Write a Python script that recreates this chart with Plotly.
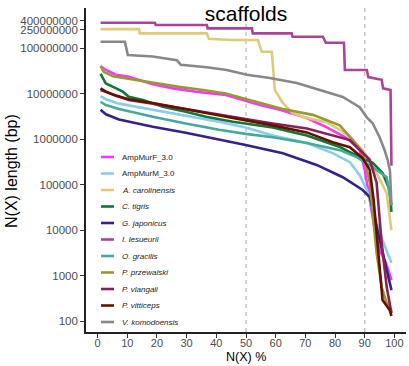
import plotly.graph_objects as go

# ---- data (N(X) % vs N(X) length in bp) ----
names = ["AmpMurF_3.0", "AmpMurM_3.0", "A. carolinensis", "C. tigris", "G. japonicus",
         "I. lesueurii", "O. gracilis", "P. przewalski", "P. vlangali", "P. vitticeps",
         "V. komodoensis"]
italic = [False, False, True, True, True, True, True, True, True, True, True]
colors = ["#FF33FF", "#88CCEE", "#DDCC77", "#117733", "#332288", "#AA4499",
          "#44AA99", "#999933", "#882255", "#661100", "#888888"]

ampf_x = [1, 2.8, 6.2, 10.5, 18.6, 25.4, 33.1, 43.2, 54.7, 61.4, 70.5, 77.2, 83.9, 88.3, 90, 91.7, 93.4, 95, 97, 99]
ampf_y = [4.0e7, 3.3e7, 2.6e7, 2.35e7, 1.6e7, 1.3e7, 1.1e7, 9.3e6, 5.6e6, 4.4e6, 2.9e6, 1.8e6, 1.05e6, 5.8e5, 2.1e5, 4.6e4, 1.0e4, 3.6e3, 2.0e3, 800]

ampm_x = [1, 2.8, 7.2, 18.6, 29.7, 40.9, 49.9, 59, 70.5, 79.2, 85, 88.3, 90.7, 92.7, 96, 99]
ampm_y = [8.8e6, 7.5e6, 6.0e6, 4.4e6, 3.2e6, 2.4e6, 1.8e6, 1.2e6, 8.2e5, 4.9e5, 3.1e5, 1.6e5, 7.6e4, 2.7e4, 6.0e3, 1.9e3]

acar_x = [1, 13.9, 14.2, 36.8, 37.5, 44.5, 54, 55.3, 58.7, 59.7, 62.4, 65.7, 70.5, 77.2, 81.6, 85, 89.3, 94, 97.4, 99]
acar_y = [2.6e8, 2.6e8, 2.1e8, 2.1e8, 1.6e8, 1.5e8, 1.5e8, 8.3e7, 8.3e7, 1.2e7, 6.2e6, 3.7e6, 2.9e6, 2.35e6, 1.6e6, 1.1e6, 5.7e5, 1.8e5, 6.4e4, 1.0e4]

ctig_x = [1, 2.8, 5.2, 8.5, 10.5, 15.3, 22, 29.7, 36.5, 45.6, 59, 70.5, 81.6, 88.3, 92.7, 96, 98.4, 99]
ctig_y = [2.7e7, 1.66e7, 1.4e7, 1.1e7, 8.5e6, 7.2e6, 5.1e6, 4.0e6, 3.1e6, 2.4e6, 1.8e6, 1.2e6, 6.7e5, 4.0e5, 3.0e5, 1.8e5, 7.6e4, 2.5e4]

gjap_x = [1, 2.8, 7.2, 18.6, 29.7, 40.9, 49.9, 62.4, 73.8, 82.6, 89.3, 91.7, 94, 96, 99]
gjap_y = [4.4e6, 3.5e6, 2.7e6, 1.86e6, 1.37e6, 9.8e5, 7.4e5, 4.9e5, 2.7e5, 1.45e5, 7.6e4, 5.3e4, 1.2e4, 3.1e3, 480]

ilesu_x = [1, 19.3, 19.6, 36.8, 37.1, 52, 52.3, 65.4, 65.7, 75.9, 76.9, 83.0, 83.3, 90.7, 91.2, 95.7, 96.2, 98.7, 99]
ilesu_y = [3.6e8, 3.6e8, 3.2e8, 3.2e8, 2.7e8, 2.7e8, 2.1e8, 2.1e8, 1.77e8, 1.77e8, 1.31e8, 1.31e8, 3.3e7, 3.3e7, 2.3e7, 2.0e7, 1.3e7, 1.2e7, 2.6e5]

ogra_x = [1, 2.8, 7.2, 18.6, 29.7, 40.9, 49.9, 59, 70.5, 81.6, 87.3, 92.7, 97.4, 99]
ogra_y = [6.6e6, 5.6e6, 4.6e6, 3.1e6, 2.2e6, 1.6e6, 1.3e6, 1.1e6, 8.2e5, 5.7e5, 4.0e5, 2.4e5, 1.45e5, 3.5e4]

pprz_x = [1, 2.1, 5.2, 10.5, 18.6, 27.4, 35.5, 43.2, 49.9, 54.7, 62.4, 72.5, 77.2, 81.6, 86, 89.3, 91.7, 93, 94, 95.7, 97.4, 99]
pprz_y = [4.0e7, 3.0e7, 2.4e7, 2.1e7, 1.7e7, 1.4e7, 1.2e7, 1.0e7, 7.6e6, 6.2e6, 4.6e6, 3.4e6, 2.6e6, 2.0e6, 9.5e5, 5.2e5, 1.1e5, 1.7e4, 3.1e3, 560, 250, 165]

pvla_x = [1, 10.5, 18.6, 27.4, 36.5, 45.6, 59, 70.5, 79.2, 85, 91.7, 94, 95.7, 97.4, 99]
pvla_y = [1.2e7, 7.2e6, 6.0e6, 4.8e6, 3.8e6, 3.0e6, 2.2e6, 1.7e6, 1.2e6, 9.5e5, 3.5e5, 1.1e5, 5.2e3, 560, 150]

pvit_x = [1, 2.8, 6.2, 10.5, 18.6, 27.4, 36.5, 45.6, 59, 70.5, 79.2, 85, 89.3, 91.7, 93, 94, 95, 96, 98.4, 99]
pvit_y = [1.3e7, 1.1e7, 8.9e6, 7.5e6, 6.2e6, 4.8e6, 3.7e6, 2.9e6, 2.0e6, 1.4e6, 8.5e5, 6.6e5, 3.8e5, 2.1e5, 4.6e4, 8.6e3, 1.1e3, 290, 175, 130]

vkom_x = [1, 9.2, 10.2, 18.6, 26.7, 28, 36.8, 43.5, 50.3, 58, 67.1, 74.9, 82.6, 88.3, 90.7, 92.7, 95, 96.7, 97.7, 98.5, 99]
vkom_y = [1.38e8, 1.38e8, 7.0e7, 6.5e7, 5.4e7, 4.3e7, 3.8e7, 3.3e7, 2.6e7, 2.2e7, 1.7e7, 1.2e7, 8.4e6, 5.0e6, 3.0e6, 2.2e6, 1.1e6, 5.7e5, 3.5e5, 2.0e5, 3.5e4]

series_x = [ampf_x, ampm_x, acar_x, ctig_x, gjap_x, ilesu_x, ogra_x, pprz_x, pvla_x, pvit_x, vkom_x]
series_y = [ampf_y, ampm_y, acar_y, ctig_y, gjap_y, ilesu_y, ogra_y, pprz_y, pvla_y, pvit_y, vkom_y]

y_tickvals = [100, 1000, 10000, 100000, 1000000, 10000000, 100000000, 250000000, 400000000]
y_ticktext = ["100", "1000", "10000", "100000", "1000000", "10000000", "100000000", "250000000", "400000000"]
x_tickvals = [0, 10, 20, 30, 40, 50, 60, 70, 80, 90, 100]
vlines = [50, 90]

FONT = "Liberation Sans, Arial, Helvetica, sans-serif"

fig = go.Figure()
for xs, ys, c, n in zip(series_x, series_y, colors, names):
    fig.add_trace(go.Scatter(x=xs, y=ys, mode="lines", name=n,
                             line=dict(color=c, width=2.6), showlegend=False))

for v in vlines:
    fig.add_shape(type="line", xref="x", yref="paper", x0=v, x1=v, y0=0, y1=1,
                  line=dict(color="#BDBDBD", width=1.3, dash="4px,4px"), layer="below")

# manual legend (ggplot-like short keys)
L, T, W, H = 86, 8, 320, 324
def px(xp): return (xp - L) / W
def py(yp): return (T + H - yp) / H
for i, (n, c, it) in enumerate(zip(names, colors, italic)):
    yy = 157 + i * 16.5
    fig.add_shape(type="line", xref="paper", yref="paper", x0=px(101), x1=px(114),
                  y0=py(yy), y1=py(yy), line=dict(color=c, width=2.6))
    fig.add_annotation(xref="paper", yref="paper", x=px(120), y=py(yy), text=f"<i>{n}</i>" if it else n,
                       showarrow=False, xanchor="left", yanchor="middle",
                       font=dict(size=8, color="#1a1a1a", family=FONT))

fig.add_annotation(xref="paper", yref="paper", x=px(11), y=py(171), text="N(X) length (bp)",
                   textangle=-90, showarrow=False, xanchor="center", yanchor="middle",
                   font=dict(size=16, color="black", family=FONT))
fig.add_annotation(xref="paper", yref="paper", x=px(246), y=py(357), text="N(X) %",
                   showarrow=False, xanchor="center", yanchor="middle",
                   font=dict(size=12.5, color="black", family=FONT))

fig.update_layout(
    width=409, height=366,
    margin=dict(l=L, r=409 - L - W, t=T, b=366 - T - H),
    paper_bgcolor="white", plot_bgcolor="white",
    font=dict(family=FONT),
    title=dict(text="scaffolds", x=246 / 409, xanchor="center", y=1 - 14 / 366, yanchor="middle",
               yref="container", xref="container", font=dict(size=21, color="black", family=FONT)),
    xaxis=dict(range=[-3.9, 103.9], tickvals=x_tickvals, showgrid=False, zeroline=False,
               showline=True, linecolor="#222", linewidth=1.6, ticks="outside", ticklen=4,
               tickcolor="#333", tickwidth=1.2, ticklabelstandoff=-4,
               tickfont=dict(size=11, color="#4d4d4d", family=FONT)),
    yaxis=dict(type="log", range=[1.76, 8.88], tickvals=y_tickvals, ticktext=y_ticktext,
               showgrid=False, zeroline=False, showline=True, linecolor="#222", linewidth=1.6,
               ticks="outside", ticklen=4, tickcolor="#333", tickwidth=1.2,
               tickfont=dict(size=11.5, color="#4d4d4d", family=FONT)),
)

fig.write_html("out.html")
